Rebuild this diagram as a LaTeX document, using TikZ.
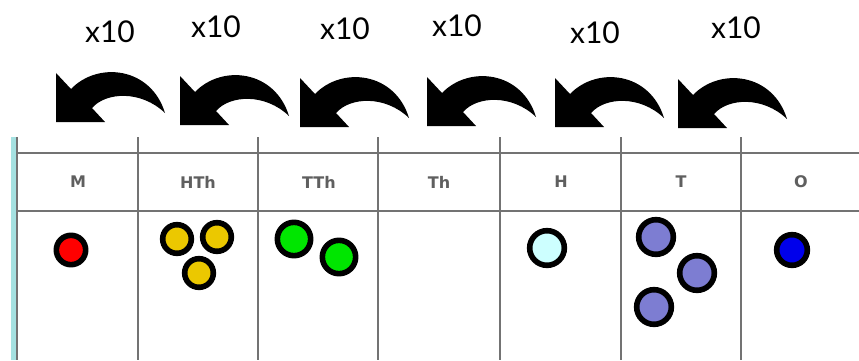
\documentclass[tikz,border=0pt]{standalone}
\usepackage{fontspec}
\setmainfont{Lato}
\newfontfamily\headfont{DejaVu Sans}
\usepackage{tikz}
\usetikzlibrary{positioning}
\definecolor{gridgrey}{RGB}{115,115,115}
\definecolor{headgrey}{RGB}{95,95,95}
\definecolor{edgeteal}{RGB}{165,225,225}
\definecolor{mred}{RGB}{255,0,0}
\definecolor{hthyellow}{RGB}{235,200,0}
\definecolor{tthgreen}{RGB}{0,230,0}
\definecolor{hcyan}{RGB}{205,255,255}
\definecolor{tpurple}{RGB}{125,125,210}
\definecolor{oblue}{RGB}{0,0,235}

\tikzset{
  carry/.pic={
    \fill[black] (0,0) -- (0,49) -- (49,49) -- (36,35)
      .. controls (50,19) and (85,17) .. (109,40)
      .. controls (95,-6) and (42,-12) .. (15,16) -- cycle;
  }
}

\begin{document}
\begin{tikzpicture}[
    x=0.75pt, y=-0.75pt,
    mult/.style={font=\fontsize{22.5}{26}\selectfont, inner sep=0pt},
    head/.style={font=\headfont\bfseries\fontsize{12}{14}\selectfont, text=headgrey, inner sep=0pt},
    counter/.style={circle, draw=black, line width=4.2pt, inner sep=0pt, minimum size=#1},
    grid line/.style={draw=gridgrey, line width=2.2pt}
]
\useasboundingbox (0,0) rectangle (859,360);

% Multipliers
\node[mult] (lab1) at (110,32) {x10};
\node[mult] (lab2) at (216,27) {x10};
\node[mult] (lab3) at (345,29) {x10};
\node[mult] (lab4) at (457,26) {x10};
\node[mult] (lab5) at (595,33) {x10};
\node[mult] (lab6) at (736,28) {x10};

% Carry arrows
\pic at (56,73) {carry};
\pic at (180,76) {carry};
\pic at (300,78) {carry};
\pic at (427,77) {carry};
\pic at (555,78) {carry};
\pic at (678,79) {carry};

% Place value table
\fill[edgeteal] (11,137) rectangle (16,360);
\draw[grid line] (17,153) -- (859,153);
\draw[grid line] (17,211) -- (859,211);
\draw[grid line] (17,137) -- (17,360);
\draw[grid line] (138,137) -- (138,360);
\draw[grid line] (258,137) -- (258,360);
\draw[grid line] (378,137) -- (378,360);
\draw[grid line] (500,137) -- (500,360);
\draw[grid line] (621,137) -- (621,360);
\draw[grid line] (741,137) -- (741,360);

% Column heads
\node[head] (colM) at (78,182) {M};
\node[head] (colHTh) at (198,182) {HTh};
\node[head] (colTTh) at (319,182) {TTh};
\node[head] (colTh) at (439,182) {Th};
\node[head] (colH) at (561,182) {H};
\node[head] (colT) at (681,182) {T};
\node[head] (colO) at (801,182) {O};

% Counters
\node[counter=22pt, fill=mred] (m1) at (71,250) {};
\node[counter=21.5pt, fill=hthyellow] (hth1) at (177,239) {};
\node[counter=21.5pt, fill=hthyellow] (hth2) at (217,237) {};
\node[counter=21.5pt, fill=hthyellow] (hth3) at (199,273) {};
\node[counter=25pt, fill=tthgreen] (tth1) at (294,239) {};
\node[counter=25pt, fill=tthgreen] (tth2) at (339,257) {};
\node[counter=26pt, fill=hcyan] (h1) at (547,248) {};
\node[counter=26pt, fill=tpurple] (t1) at (656,237) {};
\node[counter=26pt, fill=tpurple] (t2) at (697,273) {};
\node[counter=26pt, fill=tpurple] (t3) at (654,307) {};
\node[counter=23pt, fill=oblue] (o1) at (792,250) {};

\end{tikzpicture}
\end{document}
